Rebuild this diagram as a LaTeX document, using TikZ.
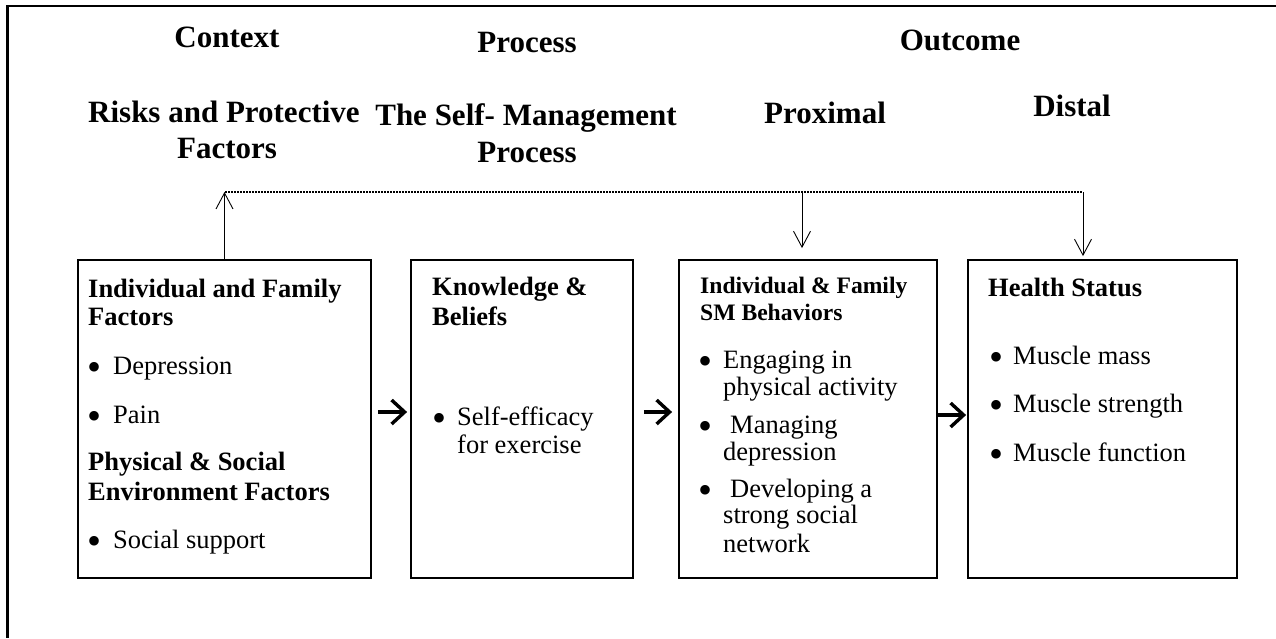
\documentclass[tikz,border=0pt]{standalone}
\usepackage{fontspec}
\setmainfont{Liberation Serif}
\usetikzlibrary{arrows.meta}
\newcommand\ttlfnt{\fontsize{31}{36}\selectfont\bfseries}
\newcommand\bodyfnt{\fontsize{26.5}{30}\selectfont}
\newcommand\boldfnt{\fontsize{26.5}{30}\selectfont\bfseries}
\newcommand\smbfnt{\fontsize{23.6}{28}\selectfont\bfseries}
\newcommand\bulfnt{\fontsize{40}{40}\selectfont}
\begin{document}
\begin{tikzpicture}[x=1pt,y=-1pt,
  frame/.style={line width=2.2pt},
  box/.style={draw, line width=1.8pt, rectangle, inner sep=0pt, minimum height=318pt},
  ttl/.style={font=\ttlfnt, inner sep=0pt, anchor=base},
  bt/.style={font=\bodyfnt, inner sep=0pt, anchor=base west},
  bb/.style={font=\boldfnt, inner sep=0pt, anchor=base west},
  sb/.style={font=\smbfnt, inner sep=0pt, anchor=base west},
  bul/.style={font=\bulfnt, inner sep=0pt, anchor=base west, yshift=-6.5pt},
  flow/.style={line width=3.4pt, -{Straight Barb[length=13pt,width=24pt]}},
  thinarr/.style={line width=0.9pt, -{Straight Barb[length=16pt,width=17pt]}},
  dotline/.style={line width=2pt, dash pattern=on 1.5pt off 1.5pt}]
\useasboundingbox (0,0) rectangle (1276,638);
\draw[frame] (1276,5.8) -- (7.5,5.8) -- (7.5,638);

% headings
\node[ttl] (hctx) at (227,47) {Context};
\node[ttl, anchor=base west] (hrisk1) at (88,122) {Risks and Protective};
\node[ttl] (hrisk2) at (227,158) {Factors};
\node[ttl] (hproc) at (527,52) {Process};
\node[ttl] (hsm1) at (526,125) {The Self- Management};
\node[ttl] (hsm2) at (527,162) {Process};
\node[ttl] (hout) at (960,50) {Outcome};
\node[ttl] (hprox) at (825,123) {Proximal};
\node[ttl] (hdist) at (1072,116) {Distal};

% boxes
\node[box, minimum width=293pt] (b1) at (224.5,419) {};
\node[box, minimum width=222pt] (b2) at (522,419) {};
\node[box, minimum width=258pt] (b3) at (808,419) {};
\node[box, minimum width=269pt] (b4) at (1102.5,419) {};

% box 1 text
\node[bb] (t11) at (88,297) {Individual and Family};
\node[bb] (t12) at (88,325) {Factors};
\node[bul] (u11) at (87,374) {\textbullet};
\node[bt] (t13) at (113,374) {Depression};
\node[bul] (u12) at (87,423) {\textbullet};
\node[bt] (t14) at (113,423) {Pain};
\node[bb] (t15) at (88,470) {Physical \& Social};
\node[bb] (t16) at (88,500) {Environment Factors};
\node[bul] (u13) at (87,548) {\textbullet};
\node[bt] (t17) at (113,548) {Social support};

% box 2 text
\node[bb] (t21) at (432,295) {Knowledge \&};
\node[bb] (t22) at (432,325) {Beliefs};
\node[bul] (u21) at (432,425) {\textbullet};
\node[bt] (t23) at (457,425) {Self-efficacy};
\node[bt] (t24) at (457,453) {for exercise};

% box 3 text
\node[sb] (t31) at (700,293) {Individual \& Family};
\node[sb] (t32) at (700,320) {SM Behaviors};
\node[bul] (u31) at (698,368) {\textbullet};
\node[bt] (t33) at (723,368) {Engaging in};
\node[bt] (t34) at (723,395) {physical activity};
\node[bul] (u32) at (698,433) {\textbullet};
\node[bt] (t35) at (730,433) {Managing};
\node[bt] (t36) at (723,460) {depression};
\node[bul] (u33) at (698,497) {\textbullet};
\node[bt] (t37) at (730,497) {Developing a};
\node[bt] (t38) at (723,523) {strong social};
\node[bt] (t39) at (723,552) {network};

% box 4 text
\node[bb] (t41) at (988,296) {Health Status};
\node[bul] (u41) at (989,364) {\textbullet};
\node[bt] (t42) at (1013,364) {Muscle mass};
\node[bul] (u42) at (989,412) {\textbullet};
\node[bt] (t43) at (1013,412) {Muscle strength};
\node[bul] (u43) at (989,461) {\textbullet};
\node[bt] (t44) at (1013,461) {Muscle function};

% flow arrows
\draw[flow] ([xshift=6pt,yshift=7pt]b1.east) -- ([xshift=-3pt,yshift=7pt]b2.west);
\draw[flow] ([xshift=10pt,yshift=7pt]b2.east) -- ([xshift=-6pt,yshift=7pt]b3.west);
\draw[flow] ([yshift=4pt]b3.east) -- ([xshift=-1pt,yshift=4pt]b4.west);

% dotted feedback line and arrows
\coordinate (dl) at (225,192);
\coordinate (dr) at (1083,192);
\coordinate (p1) at (802,192);
\draw[dotline] (dl) -- (dr);
\draw[thinarr] (b1.north) -- (b1.north |- dl);
\draw[thinarr, shorten >=11pt] (p1) -- (p1 |- b3.north);
\draw[thinarr, shorten >=3pt] (dr) -- (dr |- b4.north);
\end{tikzpicture}
\end{document}
